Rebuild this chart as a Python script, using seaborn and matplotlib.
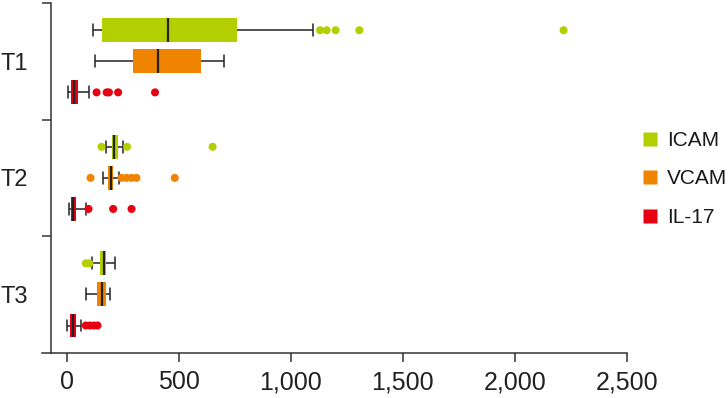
import matplotlib
matplotlib.use('Agg')
import matplotlib.pyplot as plt
from matplotlib.lines import Line2D
from matplotlib.ticker import StrMethodFormatter
import seaborn as sns
import pandas as pd

groups = ['T1', 'T2', 'T3']
markers = ['ICAM', 'VCAM', 'IL-17']
colors = ['#b3cf00', '#f08300', '#e60012']

# five-number summaries: low whisker, Q1, median, Q3, high whisker
icam_box = [[117, 156, 450, 762, 1100], [174, 201, 211, 228, 251], [113, 150, 166, 177, 214]]
vcam_box = [[128, 296, 408, 601, 701], [162, 186, 196, 207, 233], [85, 135, 155, 177, 195]]
il17_box = [[7, 18, 30, 48, 98], [9, 17, 28, 40, 85], [3, 16, 26, 43, 63]]

# points drawn beyond the whiskers
icam_out = [[1131, 1160, 1200, 1306, 2218], [155, 269, 651], [85, 100]]
vcam_out = [[], [106, 244, 266, 289, 311, 482], []]
il17_out = [[133, 178, 188, 229, 394], [97, 207, 289], [85, 103, 121, 137]]


def to_long(per_marker):
    rows = []
    for m, per_group in zip(markers, per_marker):
        for g, vals in zip(groups, per_group):
            for v in vals:
                rows.append({'group': g, 'marker': m, 'value': v})
    return pd.DataFrame(rows)


box_df = to_long([icam_box, vcam_box, il17_box])
out_df = to_long([icam_out, vcam_out, il17_out])

sns.set_theme(style='white')
plt.rcParams['font.family'] = ['Liberation Sans', 'DejaVu Sans']

fig = plt.figure(figsize=(7.28, 3.98), dpi=100)
ax = fig.add_axes([0.0573, 0.1138, 0.8036, 0.8786])

# whiskers span min..max of each summary, outliers are drawn separately
sns.boxplot(data=box_df, x='value', y='group', hue='marker', order=groups,
            hue_order=markers, palette=colors, saturation=1, whis=(0, 100),
            width=0.8, gap=0.23, linecolor='#222222', linewidth=1.1,
            boxprops={'edgecolor': 'none'}, medianprops={'linewidth': 1.6},
            legend=False, ax=ax)
sns.stripplot(data=out_df, x='value', y='group', hue='marker', order=groups,
              hue_order=markers, palette=colors, dodge=True, jitter=False,
              size=5.8, linewidth=0, legend=False, ax=ax)

ax.set_xlim(-112, 2500)
ax.set_ylim(2.5, -0.5)
ax.set_xlabel('')
ax.set_ylabel('')

for s in ['top', 'right']:
    ax.spines[s].set_visible(False)
for s in ['left', 'bottom']:
    ax.spines[s].set_linewidth(1.1)
    ax.spines[s].set_color('#333333')
ax.spines['left'].set_position(('data', -72))

ax.set_xticks([0, 500, 1000, 1500, 2000, 2500])
ax.xaxis.set_major_formatter(StrMethodFormatter('{x:,.0f}'))
ax.tick_params(axis='x', bottom=True, length=6.8, width=1.1, color='#333333',
               pad=6, labelsize=18, labelcolor='#222222')

ax.set_yticks([0, 1, 2], groups)
ax.set_yticks([-0.5, 0.5, 1.5], minor=True)
ax.tick_params(axis='y', which='both', left=True)
ax.tick_params(axis='y', which='major', length=0, pad=16.5, labelsize=17,
               labelcolor='#222222')
ax.tick_params(axis='y', which='minor', length=6.5, width=1.1, color='#333333')

handles = [Line2D([], [], marker='s', linestyle='none', markersize=10,
                  markerfacecolor=c, markeredgecolor='none') for c in colors]
fig.legend(handles, markers, loc='center left',
           bbox_to_anchor=(640 / 728, 1 - 179 / 398), frameon=False,
           prop={'size': 15}, handlelength=0.95, handletextpad=0.35,
           labelspacing=0.93, borderpad=0, borderaxespad=0,
           labelcolor='#1a1a1a')

fig.savefig('out.png', dpi=100)
